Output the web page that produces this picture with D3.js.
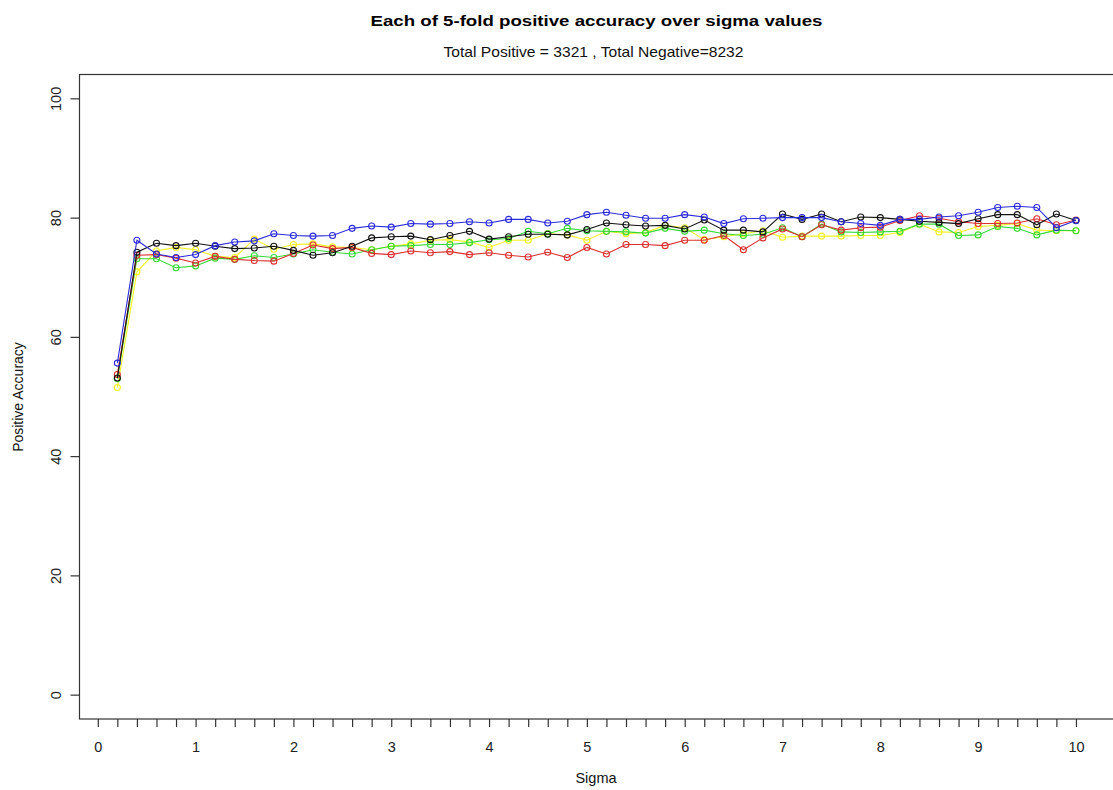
<!DOCTYPE html>
<html>
<head>
<meta charset="utf-8">
<script src="https://cdn.jsdelivr.net/npm/d3@7"></script>
<style>
  html, body { margin: 0; padding: 0; background: #fff; }
  svg { display: block; font-family: "Liberation Sans", Arial, sans-serif; }
</style>
</head>
<body>
<svg id="chart" width="1113" height="790"></svg>
<script>
// ---- data ----
const sigma = [0.2,0.4,0.6,0.8,1.0,1.2,1.4,1.6,1.8,2.0,
               2.2,2.4,2.6,2.8,3.0,3.2,3.4,3.6,3.8,4.0,
               4.2,4.4,4.6,4.8,5.0,5.2,5.4,5.6,5.8,6.0,
               6.2,6.4,6.6,6.8,7.0,7.2,7.4,7.6,7.8,8.0,
               8.2,8.4,8.6,8.8,9.0,9.2,9.4,9.6,9.8,10.0];

const foldBlack = [53.1,74.2,75.7,75.3,75.7,75.2,74.8,74.9,75.2,74.5,
                   73.7,74.1,75.2,76.6,76.8,76.9,76.3,77.0,77.7,76.4,
                   76.8,77.2,77.2,77.1,78.0,79.1,78.8,78.6,78.7,78.1,
                   79.6,77.9,77.9,77.6,80.6,79.7,80.6,79.3,80.1,80.0,
                   79.7,79.4,79.2,79.0,79.8,80.5,80.5,78.8,80.6,79.5];

const foldRed = [53.7,73.7,73.8,73.2,72.4,73.5,73.0,72.8,72.7,74.0,
                 75.4,74.8,75.0,74.0,73.8,74.4,74.1,74.3,73.8,74.1,
                 73.7,73.4,74.2,73.3,75.0,73.9,75.5,75.5,75.3,76.2,
                 76.2,77.0,74.6,76.6,78.1,76.8,78.8,77.9,78.3,78.4,
                 79.5,80.3,79.9,79.3,79.0,79.0,79.1,79.8,78.8,79.6];

const foldGreen = [53.0,73.1,73.1,71.6,71.9,73.2,73.0,73.6,73.3,73.9,
                   74.6,74.2,73.9,74.6,75.2,75.3,75.5,75.5,75.8,76.3,
                   76.5,77.7,77.3,78.2,77.8,77.7,77.6,77.4,78.2,77.7,
                   77.9,77.3,77.0,77.2,78.3,76.8,78.9,77.6,77.5,77.6,
                   77.7,78.9,78.9,77.0,77.1,78.5,78.2,77.1,77.9,77.8];

const foldYellow = [51.5,70.9,74.4,75.0,74.6,73.5,73.3,76.4,74.7,75.5,
                    75.6,75.1,75.0,74.6,75.2,75.6,76.2,76.3,75.9,75.0,
                    76.2,76.2,77.3,77.1,76.2,77.7,77.3,77.5,78.7,78.3,
                    76.3,76.8,77.3,77.8,76.7,76.9,76.9,76.9,77.0,77.0,
                    77.5,78.9,77.6,77.5,78.5,78.7,79.0,77.9,77.8,77.8];

const foldBlue = [55.6,76.2,73.9,73.3,73.8,75.3,75.9,76.1,77.3,77.0,
                  76.9,77.0,78.2,78.6,78.4,79.0,78.9,79.0,79.3,79.1,
                  79.7,79.7,79.1,79.4,80.5,80.9,80.4,79.9,79.9,80.5,
                  80.1,79.0,79.8,79.9,80.0,80.0,80.0,79.3,79.0,78.7,
                  79.7,79.7,80.1,80.3,80.9,81.7,81.9,81.7,78.3,79.5];

const seriesNames  = ["yellow","green","red","black","blue"];
const seriesColors = ["#f2f21e","#35d835","#dc2f2f","#111111","#2b2bdc"];
const seriesValues = [foldYellow, foldGreen, foldRed, foldBlack, foldBlue];

const xMajorTicks = [0,1,2,3,4,5,6,7,8,9,10];
const xTickLabels = ["0","1","2","3","4","5","6","7","8","9","10"];
const yTicks = [0,20,40,60,80,100];
const yTickLabels = ["0","20","40","60","80","100"];

const titleText = "Each of 5-fold positive accuracy over sigma values";
const subtitleText = "Total Positive = 3321 , Total Negative=8232";
const xLabelText = "Sigma";
const yLabelText = "Positive Accuracy";

// ---- drawing ----
const svg = d3.select("#chart");
const FONT = "'Liberation Sans', Arial, sans-serif";

const x = d3.scaleLinear().domain([-0.192, 10.392]).range([79, 1114.3]);
const y = d3.scaleLinear().domain([-4, 104]).range([718.5, 74.5]);

// tick positions every 0.2 (labels only at integers)
const xMinorTicks = d3.range(0, 51).map(i => +(i * 0.2).toFixed(1));

// Box
svg.append("rect")
  .attr("x", 79.5).attr("y", 74.5)
  .attr("width", 1114.3 - 79.5).attr("height", 719 - 74.5)
  .attr("fill", "none").attr("stroke", "#333").attr("stroke-width", 1.2);

// X axis
const xAxis = d3.axisBottom(x)
  .tickValues(xMinorTicks)
  .tickSize(8)
  .tickSizeOuter(0)
  .tickFormat(d => {
    const i = xMajorTicks.findIndex(v => Math.abs(v - d) < 1e-6);
    return i >= 0 ? xTickLabels[i] : "";
  });
const gx = svg.append("g").attr("transform", "translate(0,719)").call(xAxis);
gx.select(".domain").remove();
gx.selectAll(".tick line").attr("stroke", "#333").attr("stroke-width", 1.2);
gx.selectAll(".tick text")
  .attr("y", 0).attr("dy", 0)
  .attr("transform", "translate(0,32.5)")
  .attr("font-size", 14.5).attr("fill", "#222")
  .attr("font-family", FONT);

// Y axis
const yAxis = d3.axisLeft(y)
  .tickValues(yTicks)
  .tickSize(9)
  .tickSizeOuter(0)
  .tickFormat((d, i) => yTickLabels[i]);
const gy = svg.append("g").attr("transform", "translate(79.5,0)").call(yAxis);
gy.select(".domain").remove();
gy.selectAll(".tick line").attr("stroke", "#333").attr("stroke-width", 1.2);
gy.selectAll(".tick text")
  .attr("x", 0).attr("dy", 0)
  .attr("text-anchor", "middle")
  .attr("transform", "translate(-19,0) rotate(-90)")
  .attr("font-size", 14.5).attr("fill", "#222")
  .attr("font-family", FONT);

// Lines and points
const line = d3.line()
  .x((d, i) => x(sigma[i]))
  .y(d => y(d));

seriesValues.forEach((vals, k) => {
  const g = svg.append("g").attr("class", "series-" + seriesNames[k]);
  g.append("path")
    .datum(vals)
    .attr("d", line)
    .attr("fill", "none")
    .attr("stroke", seriesColors[k])
    .attr("stroke-width", 1.1);
  g.selectAll("circle")
    .data(vals)
    .join("circle")
    .attr("cx", (d, i) => x(sigma[i]))
    .attr("cy", d => y(d))
    .attr("r", 3)
    .attr("fill", "none")
    .attr("stroke", seriesColors[k])
    .attr("stroke-width", 1.1);
});

// Titles and labels
svg.append("text")
  .attr("x", 596.5).attr("y", 25.5)
  .attr("text-anchor", "middle")
  .attr("font-size", 15).attr("font-weight", "bold").attr("fill", "#000")
  .attr("textLength", 452).attr("lengthAdjust", "spacingAndGlyphs")
  .text(titleText);

svg.append("text")
  .attr("x", 593.5).attr("y", 56.5)
  .attr("text-anchor", "middle")
  .attr("font-size", 14.5).attr("fill", "#111")
  .attr("textLength", 300).attr("lengthAdjust", "spacingAndGlyphs")
  .text(subtitleText);

svg.append("text")
  .attr("x", 596).attr("y", 783)
  .attr("text-anchor", "middle")
  .attr("font-size", 14.5).attr("fill", "#111")
  .text(xLabelText);

svg.append("text")
  .attr("transform", "translate(23,397) rotate(-90)")
  .attr("text-anchor", "middle")
  .attr("font-size", 14).attr("fill", "#111")
  .text(yLabelText);
</script>
</body>
</html>
